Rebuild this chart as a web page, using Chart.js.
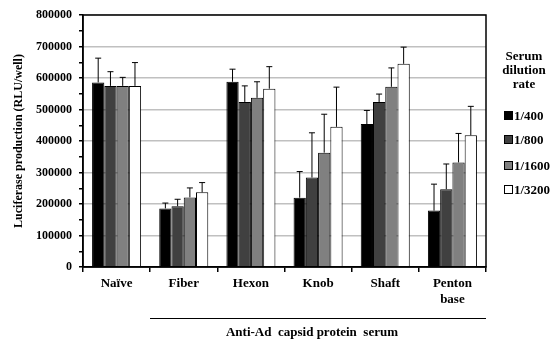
<!DOCTYPE html>
<html>
<head>
<meta charset="utf-8">
<script src="https://cdn.jsdelivr.net/npm/chart.js@4/dist/chart.umd.min.js"></script>
<style>
  body { margin: 0; background: #fff; }
  #wrap { position: relative; width: 556px; height: 341px; font-family: "Liberation Serif", serif; font-weight: bold; color: #000; }
  #legend { position: absolute; left: 496px; top: 49px; width: 56px; font-size: 13px; }
  #legend .ttl { text-align: center; line-height: 14px; }
  #legend .item { position: absolute; left: 8px; white-space: nowrap; line-height: 14px; }
  #legend .box { display: inline-block; width: 7px; height: 7px; border: 1px solid #000; margin-right: 1px; vertical-align: 0px; }
  #under { position: absolute; left: 150px; top: 318px; width: 336px; height: 0; border-top: 1.5px solid #000; }
  #underText { position: absolute; left: 150px; top: 325px; width: 324px; text-align: center; font-size: 13px; line-height: 14px; white-space: pre; }
</style>
</head>
<body>
<div id="wrap">
  <canvas id="BarChart" width="556" height="341"></canvas>
  <div id="legend"></div>
  <div id="under"></div>
  <div id="underText">Anti-Ad  capsid protein  serum</div>
</div>
<script>
const categories = ['Naïve', 'Fiber', 'Hexon', 'Knob', 'Shaft', ['Penton', 'base']];
const seriesNames = ['1/400', '1/800', '1/1600', '1/3200'];
const seriesColors = ['#000000', '#404040', '#808080', '#ffffff'];

// mean luciferase values (RLU/well)
const d400  = [586000, 186000, 588000, 220000, 454000, 179000];
const d800  = [575000, 193000, 524000, 284000, 524000, 247000];
const d1600 = [575000, 221000, 537000, 363000, 572000, 332000];
const d3200 = [575000, 237000, 566000, 445000, 645000, 418000];

// upper error (SD)
const e400  = [77000, 17000, 40000, 83000, 43000, 84000];
const e800  = [45000, 22000, 51000, 142000, 25000, 80000];
const e1600 = [27000, 30000, 51000, 122000, 60000, 92000];
const e3200 = [74000, 31000, 70000, 126000, 53000, 92000];

const yTicks = [0, 100000, 200000, 300000, 400000, 500000, 600000, 700000, 800000];

const means = [d400, d800, d1600, d3200];
const errs = [e400, e800, e1600, e3200];

const FONT = '"Liberation Serif", serif';

// legend (html)
const legend = document.getElementById('legend');
legend.innerHTML = '<div class="ttl">Serum<br>dilution<br>rate</div>';
const itemTops = [60, 84, 110, 134];
seriesNames.forEach((n, i) => {
  const it = document.createElement('div');
  it.className = 'item';
  it.style.top = itemTops[i] + 'px';
  it.innerHTML = '<span class="box" style="background:' + seriesColors[i] + '"></span>' + n;
  legend.appendChild(it);
});

const errorBars = {
  id: 'errorBars',
  afterDatasetsDraw(chart) {
    const c = chart.ctx;
    const y = chart.scales.y;
    c.save();
    c.strokeStyle = '#000';
    c.lineWidth = 1;
    chart.data.datasets.forEach((ds, di) => {
      const meta = chart.getDatasetMeta(di);
      meta.data.forEach((bar, i) => {
        const top = y.getPixelForValue(ds.data[i] + errs[di][i]);
        c.beginPath();
        c.moveTo(bar.x, bar.y);
        c.lineTo(bar.x, top);
        c.moveTo(bar.x - 3, top);
        c.lineTo(bar.x + 3, top);
        c.stroke();
      });
    });
    // frame round the plot
    const a = chart.chartArea;
    c.lineWidth = 1.5;
    c.strokeRect(a.left, a.top, a.right - a.left, a.bottom - a.top);
    c.restore();
  }
};

var ctx = document.getElementById('BarChart').getContext('2d');
var mychart = new Chart(ctx, {
  type: 'bar',
  data: {
    labels: categories,
    datasets: seriesNames.map((n, i) => ({
      label: n,
      data: means[i],
      backgroundColor: seriesColors[i],
      borderColor: '#000',
      borderWidth: 1,
      categoryPercentage: 0.73,
      barPercentage: 1.0
    }))
  },
  options: {
    responsive: false,
    animation: false,
    layout: { padding: { left: 0, top: 15, right: 70, bottom: 0 } },
    plugins: { legend: { display: false }, tooltip: { enabled: false } },
    scales: {
      x: {
        offset: true,
        border: { color: '#000', width: 1.5 },
        grid: { offset: true, drawOnChartArea: false, color: '#000', tickColor: '#000', tickLength: 5, lineWidth: 1.5 },
        ticks: { color: '#000', padding: 4, font: { family: FONT, size: 13, weight: 'bold' }, maxRotation: 0, autoSkip: false },
        afterFit: s => { s.height = 74; }
      },
      y: {
        min: 0,
        max: 800000,
        border: { color: '#000', width: 1.5 },
        grid: {
          color: c => (yTicks.includes(c.tick.value) ? '#c0c0c0' : 'rgba(0,0,0,0)'),
          lineWidth: 1.5,
          tickColor: '#000',
          tickLength: 4
        },
        ticks: {
          stepSize: 50000,
          autoSkip: false,
          color: '#000',
          padding: 7,
          font: { family: FONT, size: 12, weight: 'bold' },
          callback: v => (yTicks.includes(v) ? String(v) : '')
        },
        title: {
          display: true,
          text: 'Luciferase production (RLU/well)',
          color: '#000',
          font: { family: FONT, size: 12, weight: 'bold' },
          padding: { top: 12, bottom: 0 }
        },
        afterFit: s => { s.width = 83; }
      }
    }
  },
  plugins: [errorBars]
});
</script>
</body>
</html>
